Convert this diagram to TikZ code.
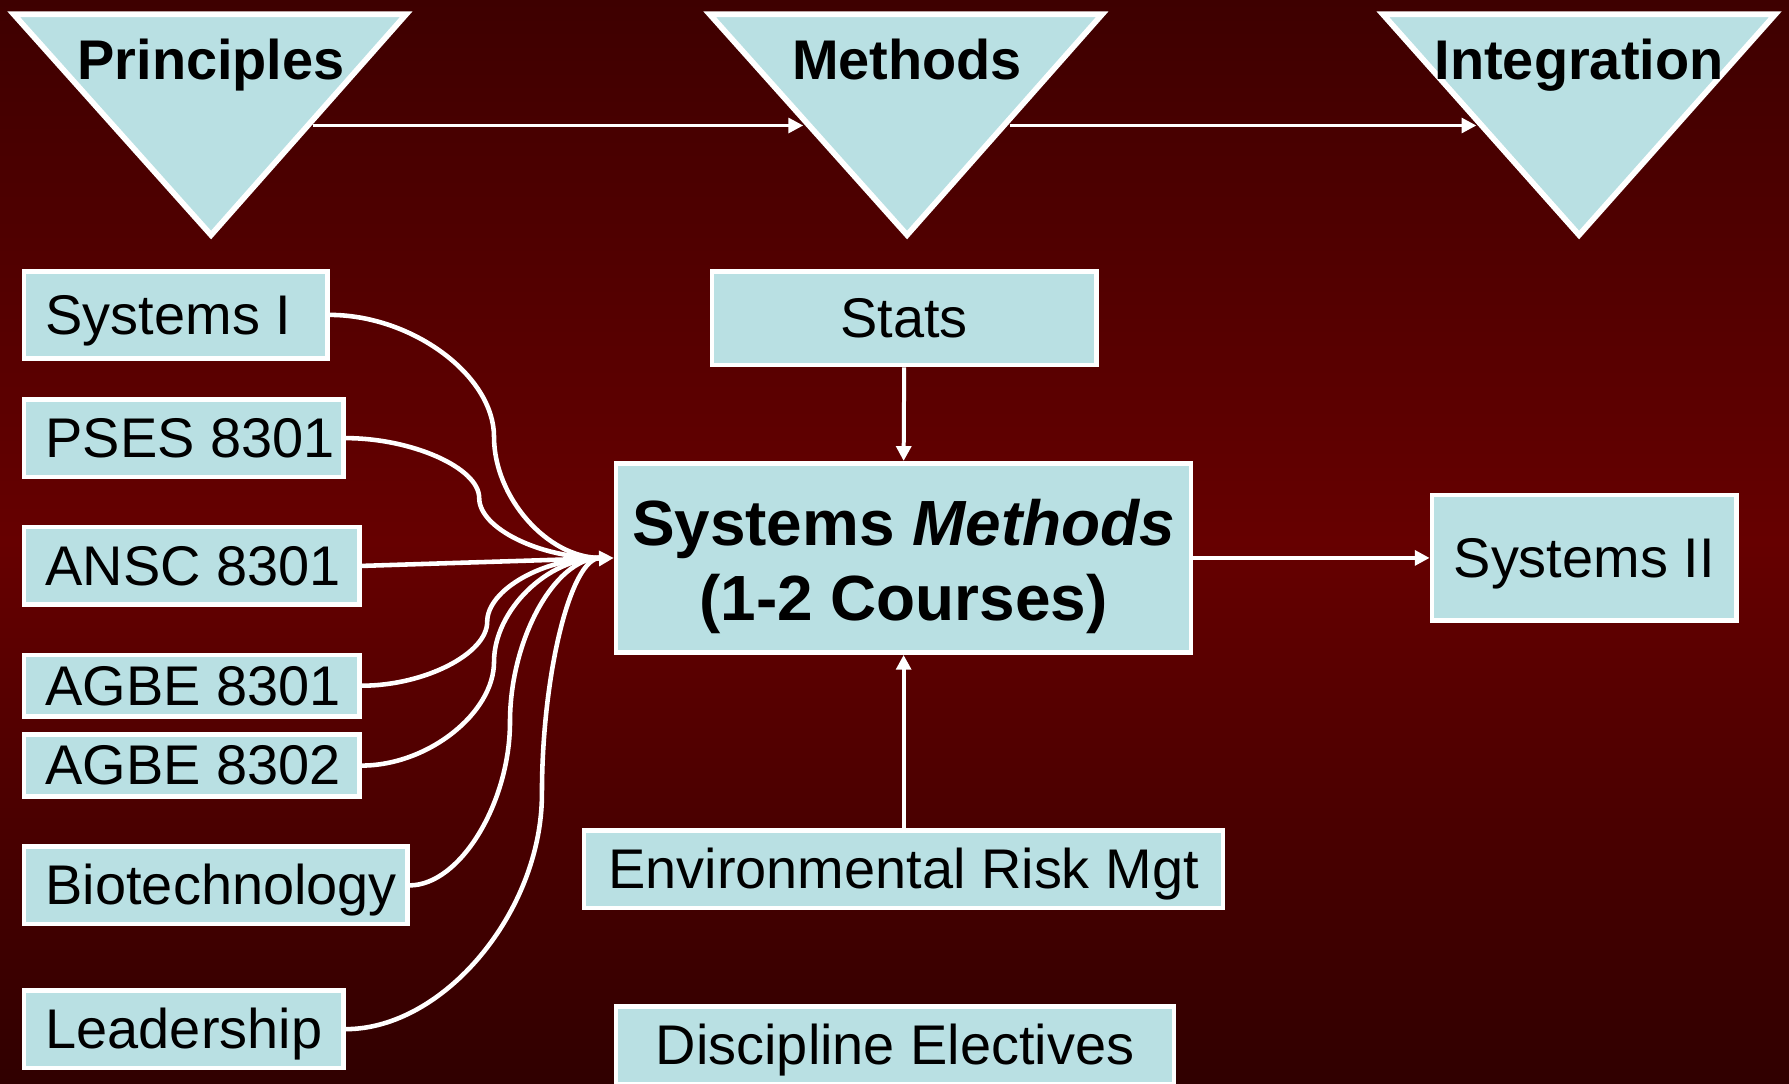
\documentclass[tikz,border=0pt]{standalone}
\usepackage{fontspec}
\setmainfont{Liberation Sans}
\usetikzlibrary{arrows.meta}
\definecolor{boxblue}{HTML}{B9E0E3}
\definecolor{bgtop}{HTML}{3E0000}
\definecolor{bgmid}{HTML}{660000}
\definecolor{bgbot}{HTML}{300000}
\begin{document}
\begin{tikzpicture}[x=1bp,y=-1bp,
  box/.style={draw=white, line width=4bp, fill=boxblue, inner sep=0pt, text=black},
  lbl/.style={font=\fontsize{49bp}{59bp}\selectfont, text height=35bp, text depth=1bp},
  mainlbl/.style={font=\fontsize{56bp}{66bp}\selectfont\bfseries, align=center},
  tri/.style={draw=white, line width=5bp, fill=boxblue, line join=miter},
  trilabel/.style={font=\fontsize{49bp}{59bp}\selectfont\bfseries, anchor=base, text=black},
  conn/.style={draw=white, line width=4bp},
  arr/.style={draw=white, line width=3.5bp, -{Triangle[length=13bp,width=13bp]}},
]
\useasboundingbox (0,0) rectangle (1568,950);
\shade[top color=bgtop, bottom color=bgbot, middle color=bgmid] (0,0) rectangle (1568,950);

% triangles
\filldraw[tri] (12,12.5) -- (356,12.5) -- (185,206) -- cycle;
\filldraw[tri] (622,12.5) -- (966,12.5) -- (795,206) -- cycle;
\filldraw[tri] (1212,12.5) -- (1556,12.5) -- (1384,206) -- cycle;
\node[trilabel] (princ) at (185,70) {Principles};
\node[trilabel] (meth) at (795,70) {Methods};
\node[trilabel] (integ) at (1384,70) {Integration};
\coordinate (pR) at (274,110);
\coordinate (mL) at (704,110);
\coordinate (mR) at (885,110);
\coordinate (iL) at (1294,110);
\draw[arr, line width=3bp] (pR) -- (mL);
\draw[arr, line width=3bp] (mR) -- (iL);

% left boxes (text starts 19bp inside the border)
\node[box, lbl, minimum width=266bp, minimum height=76bp] (sys1) at (154,276) {\makebox[228bp][l]{Systems I}};
\node[box, lbl, minimum width=280bp, minimum height=68bp] (pses) at (161,384) {\makebox[242bp][l]{PSES 8301}};
\node[box, lbl, minimum width=294bp, minimum height=68bp] (ansc) at (168,496) {\makebox[256bp][l]{ANSC 8301}};
\node[box, lbl, minimum width=294bp, minimum height=54bp] (agbe1) at (168,601) {\makebox[256bp][l]{AGBE 8301}};
\node[box, lbl, minimum width=294bp, minimum height=54bp] (agbe2) at (168,671) {\makebox[256bp][l]{AGBE 8302}};
\node[box, lbl, minimum width=336bp, minimum height=68bp] (bio) at (189,776) {\makebox[298bp][l]{Biotechnology}};
\node[box, lbl, minimum width=280bp, minimum height=68bp] (lead) at (161,902) {\makebox[242bp][l]{Leadership}};

% middle and right boxes
\node[box, lbl, minimum width=337bp, minimum height=82bp] (stats) at (792.5,279) {Stats};
\node[box, mainlbl, minimum width=504bp, minimum height=166bp] (main) at (792,489) {\rule{0pt}{55bp}Systems \textit{Methods}\\(1-2 Courses)};
\node[box, lbl, minimum width=267bp, minimum height=110bp] (sys2) at (1388.5,489) {Systems II};
\node[box, lbl, minimum width=560bp, minimum height=68bp] (env) at (792,762) {Environmental Risk Mgt};
\node[box, lbl, minimum width=489bp, minimum height=68bp] (disc) at (784.5,916) {Discipline Electives};

\coordinate (conv) at (526,489);

% converging connectors
\draw[conn] (sys1.east) .. controls (361,276) and (433,329) .. (433,383) .. controls (433,436) and (480,489) .. (conv);
\draw[conn] (pses.east) .. controls (361,384) and (420,410) .. (420,436.5) .. controls (420,463) and (473,489) .. (conv);
\draw[conn] (agbe1.east) .. controls (372,601) and (427,573) .. (427,545) .. controls (427,517) and (476,489) .. (conv);
\draw[conn] (agbe2.east) .. controls (375,671) and (433,625) .. (433,580) .. controls (433,535) and (480,489) .. (conv);
\draw[conn] (bio.east) .. controls (403,776) and (447,704) .. (447,632.5) .. controls (447,561) and (486,489) .. (conv);
\draw[conn] (lead.east) .. controls (389,902) and (475,799) .. (475,695.5) .. controls (475,592) and (500,489) .. (conv);
\draw[arr, line width=4bp] (ansc.east) -- (main.west);

% other arrows
\draw[arr] (stats.south) -- (main.north);
\draw[arr] (env.north) -- (main.south);
\draw[arr] (main.east) -- (sys2.west);
\end{tikzpicture}
\end{document}
